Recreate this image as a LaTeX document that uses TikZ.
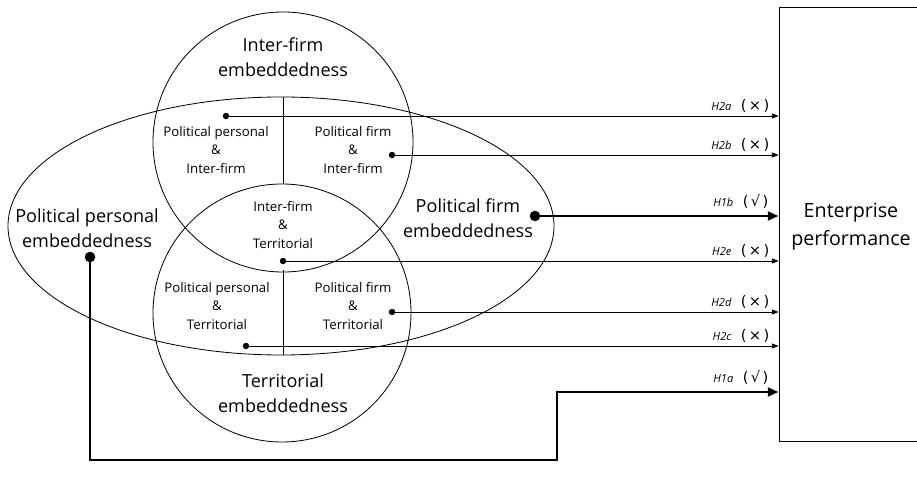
\documentclass[tikz,border=0pt]{standalone}
\usepackage{fontspec}
\setmainfont{Open Sans}
\newfontfamily\symfont{DejaVu Sans}
\usetikzlibrary{arrows.meta}

\newcommand{\no}{{\fontsize{12.5}{13}\selectfont\symfont\upshape(\,×\,)}}
\newcommand{\yes}{{\fontsize{12.5}{13}\selectfont\symfont\upshape(\,√\,)}}

\begin{document}
\begin{tikzpicture}[x=0.03cm, y=-0.03cm, line width=0.7pt,
  every node/.style={align=center},
  big/.style={font=\fontsize{15.4}{21}\selectfont},
  small/.style={font=\fontsize{11.3}{15.5}\selectfont},
  dot/.style={circle,fill=black,inner sep=0pt,minimum size=5.5pt},
  bigdot/.style={circle,fill=black,inner sep=0pt,minimum size=9pt},
  arr/.style={-{Triangle[length=2mm,width=1.5mm]}},
  thickarr/.style={-{Triangle[length=3.2mm,width=2.6mm]},line width=2.4pt},
  hyp/.style={above left,inner sep=1.5pt,xshift=-6pt,yshift=1.5pt,font=\fontsize{9.5}{10}\selectfont\itshape},
  perfbox/.style={draw,minimum width=4.38cm,minimum height=13.02cm,text depth=0pt}]
  \useasboundingbox (0,0) rectangle (917,489);
  % three embeddedness sets
  \draw (281,226) ellipse [x radius=273, y radius=129];
  \draw (283,142) circle [radius=130];
  \draw (282,313) circle [radius=129];
  \draw (283,97) -- (283,184);
  \draw (283,270) -- (283,355);
  % labels of the sets
  \node[big] (inter) at (283,57) {Inter-firm\\embeddedness};
  \node[big] (terr) at (283,393) {Territorial\\embeddedness};
  \node[big] (ppe) at (87,228) {Political personal\\embeddedness};
  \node[big] (pfe) at (468,218) {Political firm\\embeddedness};
  \node[small] (ppi) at (216,150) {Political personal\\\&\\Inter-firm};
  \node[small] (pfi) at (353,150) {Political firm\\\&\\Inter-firm};
  \node[small] (it) at (283,225) {Inter-firm\\\&\\Territorial};
  \node[small] (ppt) at (217,306) {Political personal\\\&\\Territorial};
  \node[small] (pft) at (353,306) {Political firm\\\&\\Territorial};
  \node[perfbox] (perf) at (852,224) {};
  \node[big,font=\fontsize{16.8}{24}\selectfont] (perftxt) at (851,227) {Enterprise\\performance};
  % start points
  \node[dot] (ppidot) at (226,116) {};
  \node[dot] (pfidot) at (392,155) {};
  \node[bigdot] (pfedot) at (535,216) {};
  \node[dot] (itdot) at (283,261) {};
  \node[dot] (pftdot) at (392,312) {};
  \node[dot] (pptdot) at (246,346) {};
  \node[bigdot] (ppedot) at (90,257) {};
  \coordinate (turn) at (557,460);
  \coordinate (h1aend) at (perf.west |- 0,392);
  % hypotheses
  \draw[arr] (ppidot.center) -- (ppidot -| perf.west) node[hyp] {H2a\hspace{8pt}\no};
  \draw[arr] (pfidot.center) -- (pfidot -| perf.west) node[hyp] {H2b\hspace{8pt}\no};
  \draw[thickarr] (pfedot.center) -- (pfedot -| perf.west) node[hyp,yshift=2pt] {H1b\hspace{8pt}\yes};
  \draw[arr] (itdot.center) -- (itdot -| perf.west) node[hyp] {H2e\hspace{8pt}\no};
  \draw[arr] (pftdot.center) -- (pftdot -| perf.west) node[hyp] {H2d\hspace{8pt}\no};
  \draw[arr] (pptdot.center) -- (pptdot -| perf.west) node[hyp] {H2c\hspace{8pt}\no};
  \draw[thickarr] (ppedot.center) |- (turn) |- (h1aend) node[hyp,yshift=2pt] {H1a\hspace{8pt}\yes};
\end{tikzpicture}
\end{document}
